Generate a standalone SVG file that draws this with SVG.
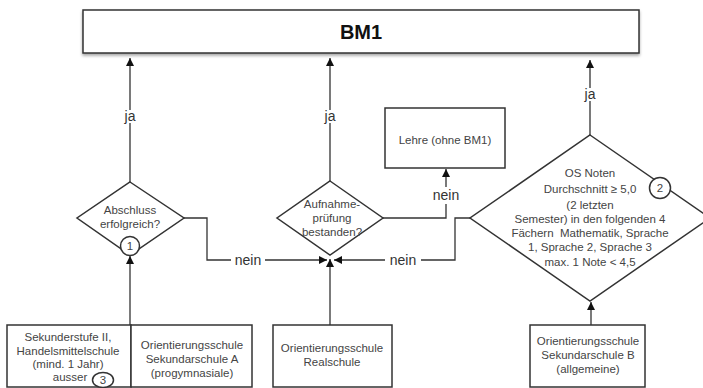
<svg xmlns="http://www.w3.org/2000/svg" width="703" height="388" viewBox="0 0 703 388">
<style>
.box{fill:#fff;stroke:#333;stroke-width:1.5}
.ln{fill:none;stroke:#333;stroke-width:1.3}
.t{font-family:"Liberation Sans",Arial,sans-serif;font-size:11.5px;fill:#444;text-anchor:middle}
.lb{font-family:"Liberation Sans",Arial,sans-serif;font-size:14px;fill:#333;text-anchor:middle}
</style>
<defs>
<marker id="ah" viewBox="0 0 10 10" refX="10" refY="5" markerWidth="9" markerHeight="8" markerUnits="userSpaceOnUse" orient="auto">
<path d="M0,0 L10,5 L0,10 z" fill="#111"/>
</marker>
<filter id="sh" x="-5%" y="-20%" width="110%" height="150%">
<feDropShadow dx="0" dy="2" stdDeviation="1.5" flood-color="#000" flood-opacity="0.35"/>
</filter>
</defs>
<rect width="703" height="388" fill="#fff"/>
<g id="bm1">
<rect class="box" x="83" y="10" width="556" height="43" filter="url(#sh)"/>
<text x="361" y="39" font-family="Liberation Sans,Arial,sans-serif" font-size="20" font-weight="bold" text-anchor="middle" fill="#111">BM1</text>
</g>
<g id="lehre">
<rect class="box" x="385" y="108" width="120" height="60"/>
<text class="t" x="445" y="144">Lehre (ohne BM1)</text>
</g>
<g id="abschluss">
<polygon class="box" points="130,182 184,218 130,255 77,218"/>
<text class="t" x="130" y="214">Abschluss</text>
<text class="t" x="130" y="228">erfolgreich?</text>
<circle class="box" cx="130" cy="246" r="9.5" stroke-width="1.2"/>
<text class="t" x="130" y="250" fill="#222">1</text>
</g>
<g id="aufnahme">
<polygon class="box" points="330,181 383,218 330,255 277,218"/>
<text class="t" x="332" y="208">Aufnahme-</text>
<text class="t" x="332" y="222">prüfung</text>
<text class="t" x="332" y="236">bestanden?</text>
</g>
<g id="osnoten">
<polygon class="box" points="590,135 710,218 590,301 470,218"/>
<text class="t" x="590" y="177">OS Noten</text>
<text class="t" x="590" y="193">Durchschnitt ≥ 5,0</text>
<text class="t" x="590" y="209">(2 letzten</text>
<text class="t" x="590" y="223">Semester) in den folgenden 4</text>
<text class="t" x="590" y="237">Fächern&#160; Mathematik, Sprache</text>
<text class="t" x="590" y="251">1, Sprache 2, Sprache 3</text>
<text class="t" x="590" y="266">max. 1 Note &lt; 4,5</text>
<circle class="box" cx="660" cy="188" r="10.5" stroke-width="1.2"/>
<text class="t" x="660" y="192" fill="#222">2</text>
</g>
<g id="sek2">
<rect class="box" x="7" y="325" width="124" height="62"/>
<text class="t" x="68" y="341">Sekunderstufe II,</text>
<text class="t" x="68" y="355" fill="#7a8290">Handelsmittelschule</text>
<text class="t" x="68" y="368">(mind. 1 Jahr)</text>
<text class="t" x="70" y="381">ausser</text>
<ellipse class="box" cx="103" cy="380" rx="10.5" ry="7.5" stroke-width="1.2"/>
<text class="t" x="103" y="384" fill="#222">3</text>
</g>
<g id="sekA">
<rect class="box" x="131" y="325" width="121" height="62"/>
<text class="t" x="192" y="349">Orientierungsschule</text>
<text class="t" x="192" y="363">Sekundarschule A</text>
<text class="t" x="192" y="377">(progymnasiale)</text>
</g>
<g id="real">
<rect class="box" x="273" y="325" width="119" height="62"/>
<text class="t" x="332" y="352">Orientierungsschule</text>
<text class="t" x="332" y="366">Realschule</text>
</g>
<g id="sekB">
<rect class="box" x="530" y="325" width="115" height="62"/>
<text class="t" x="588" y="345">Orientierungsschule</text>
<text class="t" x="588" y="359">Sekundarschule B</text>
<text class="t" x="588" y="373">(allgemeine)</text>
</g>
<g id="connectors">
<path class="ln" d="M130,182 V123 M130,110 V58" marker-end="url(#ah)"/>
<text class="lb" x="130" y="121">ja</text>
<path class="ln" d="M330,181 V123 M330,110 V58" marker-end="url(#ah)"/>
<text class="lb" x="330" y="121">ja</text>
<path class="ln" d="M590,135 V101 M590,88 V60" marker-end="url(#ah)"/>
<text class="lb" x="590" y="99">ja</text>
<path class="ln" d="M130,325 V256" marker-end="url(#ah)"/>
<path class="ln" d="M591,325 V302" marker-end="url(#ah)"/>
<path class="ln" d="M330,325 V259" marker-end="url(#ah)"/>
<path class="ln" d="M184,218 H207 V260 H231 M265,260 H327" marker-end="url(#ah)"/>
<text class="lb" x="248" y="265">nein</text>
<path class="ln" d="M470,218 H455 V260 H421 M385,260 H334" marker-end="url(#ah)"/>
<text class="lb" x="403" y="265">nein</text>
<path class="ln" d="M383,218 H446 V204 M446,187 V169" marker-end="url(#ah)"/>
<text class="lb" x="446" y="200">nein</text>
</g>
</svg>
